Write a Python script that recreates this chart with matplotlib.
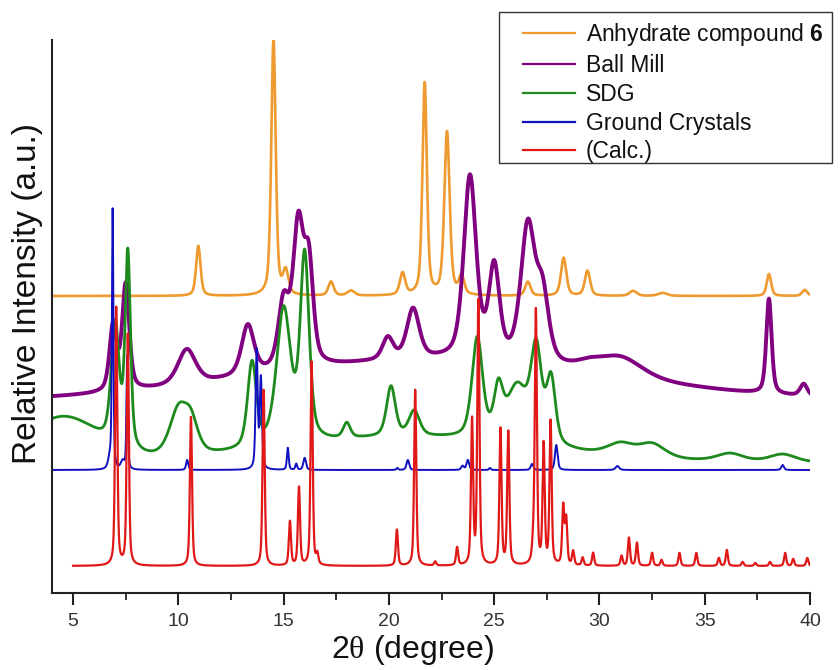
import numpy as np
import matplotlib
matplotlib.use("Agg")
import matplotlib.pyplot as plt
from matplotlib.ticker import MultipleLocator
from matplotlib.patches import Rectangle

plt.rcParams['font.family'] = ['Liberation Sans', 'DejaVu Sans']
plt.rcParams['mathtext.fontset'] = 'custom'
plt.rcParams['mathtext.rm'] = 'Liberation Serif'
plt.rcParams['mathtext.it'] = 'Liberation Serif:italic'
plt.rcParams['mathtext.bf'] = 'Liberation Sans:bold'

# ---------------- data ----------------
# each trace: baseline level + peak list (centre 2theta, height above baseline, FWHM)
labels = ["Anhydrate compound $\\mathbf{6}$", "Ball Mill", "SDG", "Ground Crystals", "(Calc.)"]
colors = ["#EE9A2E", "#800080", "#1E8A1E", "#1010C0", "#E01818"]

anh_base = 297
anh_pos = [10.95, 14.52, 15.10, 17.25, 18.20, 20.65, 21.70, 22.76, 23.45, 26.60, 28.30, 29.43, 31.60, 33.00, 38.05, 39.75]
anh_hgt = [50, 256, 23, 14, 5, 22, 212, 163, 18, 14, 38, 25, 5, 3, 22, 6]
anh_wid = [0.25, 0.25, 0.30, 0.30, 0.40, 0.30, 0.25, 0.30, 0.30, 0.30, 0.30, 0.30, 0.40, 0.50, 0.25, 0.30]

bm_base = 192
bm_pos = [6.90, 7.50, 10.40, 13.30, 15.00, 15.70, 16.20, 19.95, 21.15, 23.85, 25.00, 26.60, 27.30, 29.50, 31.00, 38.05, 39.70, 22.00]
bm_hgt = [65, 105, 35, 50, 65, 140, 95, 22, 50, 182, 90, 135, 65, 6, 20, 95, 12, 40]
bm_wid = [0.40, 0.40, 1.00, 0.70, 0.60, 0.60, 0.50, 0.60, 0.70, 0.70, 0.60, 0.80, 0.70, 1.50, 2.50, 0.30, 0.40, 20.0]

sdg_base = 130
sdg_pos = [4.50, 7.00, 7.60, 10.00, 10.60, 13.50, 15.00, 16.00, 18.00, 20.10, 21.20, 24.20, 25.20, 26.10, 27.00, 27.70, 31.00, 32.50, 36.20, 38.70, 21.00]
sdg_hgt = [45, 120, 195, 45, 30, 85, 135, 185, 15, 50, 25, 100, 45, 55, 90, 65, 12, 14, 8, 8, 25]
sdg_wid = [4.00, 0.45, 0.30, 1.00, 0.80, 0.50, 0.80, 0.50, 0.40, 0.50, 0.60, 0.60, 0.50, 1.20, 0.60, 0.50, 1.50, 1.50, 1.50, 1.50, 14.0]

gc_base = 123
gc_pos = [6.75, 6.88, 7.35, 7.57, 10.42, 13.72, 13.92, 15.20, 15.60, 16.00, 20.40, 20.90, 23.50, 23.75, 24.80, 26.80, 27.95, 30.85, 38.70]
gc_hgt = [10, 258, 8, 113, 10, 118, 90, 22, 6, 12, 2, 10, 4, 10, 2, 6, 25, 4, 5]
gc_wid = [0.20, 0.08, 0.20, 0.08, 0.12, 0.12, 0.12, 0.10, 0.10, 0.15, 0.10, 0.15, 0.15, 0.15, 0.10, 0.15, 0.15, 0.20, 0.15]

calc_base = 27
calc_pos = [7.05, 7.60, 10.60, 14.05, 15.30, 15.73, 16.33, 16.60, 20.38, 21.25, 22.20, 23.24, 23.95, 24.25,
            25.30, 25.67, 26.85, 26.98, 27.35, 27.68, 28.28, 28.42, 28.75, 29.20, 29.70, 31.05, 31.40,
            31.78, 32.50, 32.95, 33.80, 34.60, 35.67, 36.05, 36.80, 37.40, 38.10, 38.82, 39.20, 39.87]
calc_hgt = [258, 231, 149, 176, 44, 78, 204, 10, 36, 176, 4, 18, 144, 264,
            136, 133, 15, 254, 119, 143, 58, 45, 14, 8, 13, 10, 28,
            23, 13, 6, 13, 13, 8, 16, 4, 3, 4, 13, 7, 8]
calc_wid = [0.12] * len(calc_pos)

x_full = np.arange(4.0, 40.0005, 0.005)
x_calc = np.arange(5.0, 40.0005, 0.005)


def pattern(x, base, pos, hgt, wid, eta):
    y = np.full_like(x, float(base))
    for c, h, w in zip(pos, hgt, wid):
        d = (x - c) / w
        lor = 1.0 / (1.0 + 4.0 * d * d)
        gau = np.exp(-4.0 * np.log(2.0) * d * d)
        e = eta if w < 3 else 0.0
        y += h * (e * lor + (1 - e) * gau)
    return y


traces = [
    (x_full, pattern(x_full, anh_base, anh_pos, anh_hgt, anh_wid, 0.5), 1.9),
    (x_full, pattern(x_full, bm_base, bm_pos, bm_hgt, bm_wid, 0.5), 2.8),
    (x_full, pattern(x_full, sdg_base, sdg_pos, sdg_hgt, sdg_wid, 0.5), 2.0),
    (x_full, pattern(x_full, gc_base, gc_pos, gc_hgt, gc_wid, 0.5), 1.4),
    (x_calc, pattern(x_calc, calc_base, calc_pos, calc_hgt, calc_wid, 0.5), 1.6),
]

# ---------------- figure ----------------
W, H = 840, 670
fig = plt.figure(figsize=(8.4, 6.7), dpi=100)
ax = fig.add_axes([52 / W, 1 - 593 / H, 758 / W, 553 / H])

handles = []
for (xx, yy, lw), col, lab in zip(traces, colors, labels):
    ax.plot(xx, yy, color=col, lw=lw)
    h, = ax.plot([], [], color=col, lw=1.6, label=lab)
    handles.append(h)

ax.set_xlim(4, 40)
ax.set_ylim(0, 553)
ax.xaxis.set_minor_locator(MultipleLocator(2.5))
ax.set_xticks([5, 10, 15, 20, 25, 30, 35, 40])
ax.set_yticks([])
for s in ['top', 'right']:
    ax.spines[s].set_visible(False)
for s in ['left', 'bottom']:
    ax.spines[s].set_linewidth(1.5)
    ax.spines[s].set_color('#222222')
ax.tick_params(axis='x', which='major', direction='out', length=8.5, width=1.5,
               labelsize=14, pad=6, colors='#222222', labelcolor='#333333')
ax.tick_params(axis='x', which='minor', direction='out', length=5, width=1.3, colors='#222222')

fig.text(413 / W, 1 - 650 / H, "2$\\mathrm{\\theta}$ (degree)", fontsize=23,
         ha='center', va='center', color='#111111')
fig.text(28 / W, 1 - 293 / H, "Relative Intensity (a.u.)", fontsize=24, rotation=90,
         ha='center', va='center', color='#111111')

fig.patches.append(Rectangle((499 / W, 1 - 163 / H), 333 / W, 151 / H, transform=fig.transFigure,
                             fill=True, facecolor='white', edgecolor='#333333', lw=1.0, zorder=5))
leg = fig.legend(handles=handles, loc='upper left', bbox_to_anchor=(515 / W, 1 - 13 / H),
                 fontsize=16.5, frameon=False, handlelength=2.25, handletextpad=0.5,
                 labelspacing=0.255, borderpad=0.35, borderaxespad=0)
leg.set_zorder(6)
for t in leg.get_texts():
    t.set_color('#111111')

fig.savefig("out.png", dpi=100)
